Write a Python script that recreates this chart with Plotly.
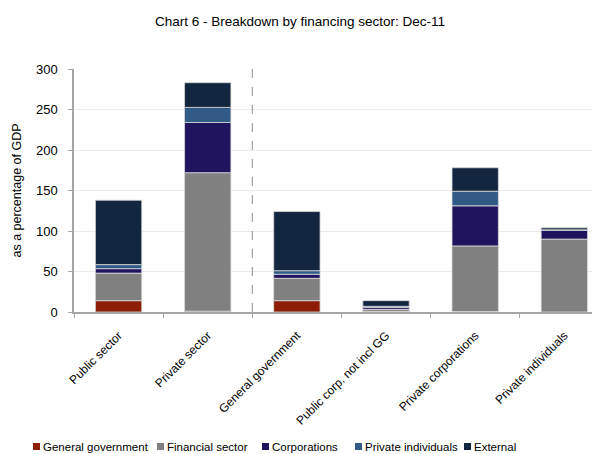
import plotly.graph_objects as go

# sectors on the x axis
sectors = ['Public sector', 'Private sector', 'General government',
           'Public corp. not incl GG', 'Private corporations', 'Private individuals']

# financing sector shares, % of GDP
general_government = [14, 1, 14, 0.8, 0.6, -1]
financial_sector = [34, 171, 27.6, 2.5, 81, 90]
corporations = [5.5, 62, 5, 2.5, 49.5, 11]
private_individuals = [5, 18.6, 4.4, 1.2, 18, 0.4]
external = [79.5, 30.5, 73, 7, 29, 2.5]

series = [
    ('General government', general_government, '#8B1E04'),
    ('Financial sector', financial_sector, '#808080'),
    ('Corporations', corporations, '#21145F'),
    ('Private individuals', private_individuals, '#315A86'),
    ('External', external, '#132640'),
]

font = 'Liberation Sans, Arial, sans-serif'
# page body has an 8px margin, so the figure is 8px smaller than the window
W, H = 592, 446

fig = go.Figure()
for name, vals, col in series:
    fig.add_trace(go.Bar(
        x=sectors, y=vals, name=name, showlegend=False,
        marker=dict(color=col, line=dict(color='#D9D9D9', width=0.8)),
    ))

# dashed separator between aggregates and sub-sectors
fig.add_shape(type='line', x0=1.5, x1=1.5, xref='x', y0=0, y1=1, yref='paper',
              line=dict(color='#8C8C8C', width=1, dash='dash'))

# legend drawn by hand so it stays on one compact row like the original
legend_x = [33, 157, 262, 355, 464]  # px from left edge of the window
for (name, vals, col), px in zip(series, legend_x):
    fig.add_shape(type='rect', xref='paper', yref='paper',
                  x0=(px - 74) / 526, x1=(px + 7 - 74) / 526,
                  y0=(312 - 450) / 243, y1=(312 - 443) / 243,
                  fillcolor=col, line=dict(width=0))
    fig.add_annotation(text=name, xref='paper', yref='paper',
                       x=(px + 8 - 74) / 526, y=(312 - 446.5) / 243,
                       xanchor='left', yanchor='middle', showarrow=False,
                       font=dict(size=11.5))

fig.update_layout(
    width=W, height=H,
    barmode='relative', bargap=0.48,
    plot_bgcolor='white', paper_bgcolor='white',
    margin=dict(l=66, r=0, t=61, b=142, autoexpand=False),
    font=dict(family=font, size=12, color='#000000'),
    title=dict(text='Chart 6 - Breakdown by financing sector: Dec-11',
               x=292 / W, xanchor='center', y=1 - 13 / H, yanchor='middle',
               font=dict(size=13.5)),
    xaxis=dict(range=[-0.5, 5.4], tickangle=-45, tickson='boundaries',
               ticks='outside', ticklen=4, tickcolor='#A6A6A6',
               showline=True, linecolor='#A6A6A6', linewidth=1.5,
               showgrid=False, tickfont=dict(size=12), ticklabelstandoff=10,
               automargin=False),
    yaxis=dict(range=[0, 300], dtick=50, ticks='outside', ticklen=4,
               tickcolor='#A6A6A6', showline=True, linecolor='#A6A6A6', linewidth=1.5,
               gridcolor='#EBEBEB', zeroline=False, tickfont=dict(size=13),
               ticklabelstandoff=8, automargin=False,
               title=dict(text='as a percentage of GDP', font=dict(size=12.5), standoff=12)),
)

fig.write_html('out.html')
